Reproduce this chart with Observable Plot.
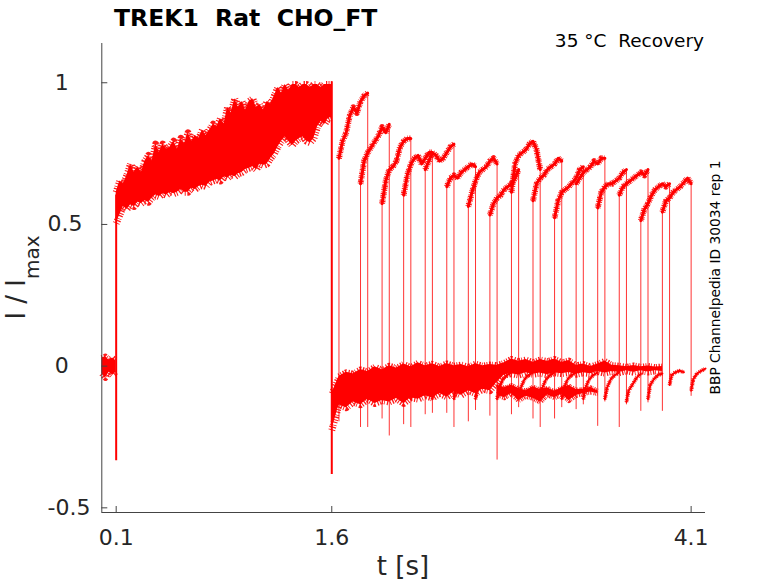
<!DOCTYPE html>
<html><head><meta charset="utf-8">
<script src="https://cdn.jsdelivr.net/npm/d3@7"></script>
<script src="https://cdn.jsdelivr.net/npm/@observablehq/plot@0.6"></script>
<style>body{margin:0;background:#fff}#chart{position:relative;width:778px;height:583px}</style>
</head><body><div id="chart"></div>
<script>
// ---- data ----
const xTicks = [0.1, 1.6, 4.1];
const yTicksInt = [1, 0];
const yTicksDec = [0.5, -0.5];

// baseline before activation step (t = 0 .. 0.1, every 0.025 s)
const preStep = 0.025;
const preUpper = [0.025, 0.03, 0.018, 0.025, 0.015];
const preLower = [-0.03, -0.045, -0.025, -0.035, -0.025];

// activation band (t = 0.1 .. 1.6, every 0.025 s)
const actStart = 0.1, actStep = 0.025;
const actUpper = [0.61,0.65,0.64,0.67,0.71,0.68,0.70,0.68,0.72,0.74,0.72,0.78,0.75,0.78,0.76,0.77,0.79,0.76,0.80,0.78,
  0.82,0.79,0.81,0.80,0.83,0.81,0.83,0.85,0.84,0.87,0.85,0.91,0.89,0.94,0.91,0.93,0.90,0.93,0.94,0.91,
  0.92,0.90,0.93,0.92,0.95,0.98,0.96,0.99,0.97,0.99,0.99,0.98,0.99,0.99,0.98,0.99,0.99,0.98,0.99,0.99,0.99];
const actLower = [0.50,0.53,0.56,0.55,0.565,0.56,0.575,0.57,0.58,0.575,0.59,0.60,0.595,0.605,0.60,0.61,0.605,0.61,0.62,0.61,
  0.61,0.625,0.62,0.63,0.635,0.63,0.645,0.65,0.655,0.65,0.665,0.66,0.67,0.665,0.675,0.68,0.69,0.695,0.70,0.69,
  0.71,0.705,0.71,0.73,0.745,0.77,0.79,0.805,0.79,0.775,0.79,0.80,0.805,0.79,0.785,0.80,0.84,0.86,0.85,0.87,0.875];

// holding band after the 1.6 s step (t = 1.6 .. 3.9, every 0.05 s)
const holdStart = 1.6, holdStep = 0.05;
const holdUpper = [-0.1,-0.04,-0.025,-0.03,-0.015,-0.022,-0.006,-0.016,-0.002,-0.01,0.004,-0.006,0.008,-0.002,0.005,-0.005,
  0.006,-0.002,0.002,-0.006,0.005,-0.002,0.002,0.0,0.008,0.022,0.014,0.02,0.01,0.02,0.014,0.022,0.01,0.016,0.0,0.004,
  -0.005,0.004,0.015,0.0,-0.002,-0.006,-0.001,-0.006,-0.003,-0.007,-0.005];
const holdLower = [-0.23,-0.14,-0.15,-0.13,-0.14,-0.12,-0.135,-0.125,-0.13,-0.118,-0.135,-0.115,-0.12,-0.108,-0.116,-0.1,
  -0.112,-0.095,-0.106,-0.09,-0.1,-0.085,-0.09,-0.06,-0.035,-0.03,-0.035,-0.027,-0.032,-0.028,-0.034,-0.027,-0.03,-0.026,
  -0.032,-0.027,-0.03,-0.022,-0.028,-0.022,-0.026,-0.02,-0.025,-0.02,-0.024,-0.02,-0.022];

// lower-baseline sweeps visible between 2.75 and 3.45 s (every 0.05 s)
const lowStart = 2.75, lowStep = 0.05;
const lowUpper = [-0.07,-0.08,-0.07,-0.082,-0.09,-0.076,-0.086,-0.08,-0.092,-0.08,-0.072,-0.086,-0.085,-0.078,-0.09];
const lowLower = [-0.105,-0.115,-0.1,-0.125,-0.11,-0.117,-0.13,-0.105,-0.115,-0.103,-0.125,-0.107,-0.1,-0.095,-0.1];

// capacitive steps at 0.1 s and 1.6 s
const stepTimes = [0.1, 1.6];
const stepLow = [-0.337, -0.386];
const stepHigh = [0.6, 1.0];

// recovery test pulses (16 sweeps)
const sweepOnset = [1.65,1.80,1.95,2.10,2.25,2.40,2.55,2.70,2.85,3.00,3.15,3.30,3.45,3.60,3.75,3.90];
const pulseDuration = 0.2;
const pulseLevels = [
  [0.73,0.79,0.82,0.88,0.91,0.89,0.93,0.95,0.96],
  [0.64,0.72,0.75,0.77,0.79,0.81,0.84,0.82,0.85],
  [0.57,0.65,0.69,0.70,0.72,0.77,0.79,0.80,0.80],
  [0.60,0.67,0.71,0.73,0.74,0.71,0.73,0.75,0.75],
  [0.69,0.72,0.75,0.74,0.72,0.73,0.75,0.77,0.78],
  [0.63,0.66,0.67,0.66,0.68,0.69,0.70,0.71,0.70],
  [0.56,0.61,0.65,0.68,0.69,0.70,0.72,0.73,0.71],
  [0.53,0.57,0.59,0.60,0.62,0.63,0.64,0.66,0.69],
  [0.61,0.71,0.74,0.75,0.76,0.78,0.79,0.76,0.69],
  [0.58,0.64,0.66,0.67,0.69,0.70,0.71,0.73,0.72],
  [0.52,0.58,0.61,0.62,0.63,0.645,0.66,0.69,0.70],
  [0.64,0.66,0.68,0.69,0.70,0.72,0.71,0.73,0.73],
  [0.555,0.61,0.63,0.64,0.64,0.65,0.66,0.68,0.69],
  [0.60,0.63,0.64,0.65,0.66,0.67,0.68,0.67,0.69],
  [0.51,0.55,0.57,0.60,0.62,0.63,0.64,0.63,0.64],
  [0.54,0.58,0.59,0.61,0.62,0.63,0.645,0.66,0.64]
];
const onsetSpike = [-0.20,-0.22,-0.19,-0.21,-0.175,-0.17,-0.20,-0.18,-0.175,-0.19,-0.19,-0.157,-0.216,-0.22,-0.163,-0.163];
const offsetSpike = [-0.22,-0.25,-0.22,-0.17,-0.22,-0.16,-0.335,-0.15,-0.22,-0.15,-0.14,-0.13,-0.14,-0.133,-0.074,-0.11];
const postOffsets = [0, 0.015, 0.04, 0.07, 0.1];
const postLevels = [
  [-0.12,-0.08,-0.05,-0.035,-0.025],[-0.12,-0.08,-0.05,-0.035,-0.025],[-0.12,-0.08,-0.05,-0.035,-0.025],
  [-0.12,-0.08,-0.05,-0.035,-0.025],[-0.12,-0.08,-0.05,-0.035,-0.025],[-0.12,-0.08,-0.05,-0.035,-0.025],
  [-0.12,-0.08,-0.05,-0.035,-0.025],[-0.12,-0.08,-0.05,-0.035,-0.025],[-0.12,-0.08,-0.05,-0.035,-0.025],
  [-0.12,-0.08,-0.05,-0.035,-0.025],[-0.12,-0.08,-0.05,-0.035,-0.025],[-0.12,-0.08,-0.05,-0.035,-0.025],
  [-0.13,-0.09,-0.07,-0.045,-0.03],[-0.12,-0.07,-0.05,-0.035,-0.03],
  [-0.07,-0.035,-0.025,-0.02,-0.025],[-0.09,-0.05,-0.03,-0.02,-0.012]
];

// ---- tables built from the arrays ----
const band = (start, step, up, lo) => up.map((u, i) => ({t: start + i * step, hi: u, lo: lo[i]}));
const preBand = band(0, preStep, preUpper, preLower);
const actBand = band(actStart, actStep, actUpper, actLower);
const holdBand = band(holdStart, holdStep, holdUpper, holdLower);
const lowBand = band(lowStart, lowStep, lowUpper, lowLower);
const steps = stepTimes.map((t, i) => ({t, lo: stepLow[i], hi: stepHigh[i]}));
const pulseRows = sweepOnset.flatMap((t0, k) => pulseLevels[k].map((v, i, a) =>
  ({sweep: k, t: t0 + i * pulseDuration / (a.length - 1), v})));
const postRows = sweepOnset.flatMap((t0, k) => postOffsets.map((o, i) =>
  ({sweep: k, t: t0 + pulseDuration + o, v: postLevels[k][i]})));
const edges = sweepOnset.flatMap((t0, k) => [
  {t: t0, lo: onsetSpike[k], hi: pulseLevels[k][0]},
  {t: t0 + pulseDuration, lo: offsetSpike[k], hi: pulseLevels[k][pulseLevels[k].length - 1]}
]);

const red = "#ff0000";
const ink = "#262626";
const noisyBand = "1,1.6,1.4,1.1,0.8,2.1,1.2,1.3";   // dash patterns that give the traces their noisy fringe
const noisyTrace = "0.8,0.9,1.3,0.7,0.6,1.4,1.1,0.8";

const fringe = (data, y, w, pattern, z) => Plot.line(data, {x: "t", y, z,
  stroke: red, strokeWidth: w, strokeDasharray: pattern, strokeLinecap: "butt", strokeOpacity: 0.9});

const chart = Plot.plot({
  width: 778, height: 583,
  marginLeft: 101.3, marginRight: 73, marginTop: 43, marginBottom: 71,
  x: {domain: [0, 4.2]},
  y: {domain: [-0.52, 1.135]},
  style: {fontFamily: "DejaVu Sans", fontSize: "22px", color: ink, background: "#fff", overflow: "visible"},
  marks: [
    Plot.areaY(preBand, {x: "t", y1: "lo", y2: "hi", fill: red}),
    fringe(preBand, "hi", 6, noisyBand), fringe(preBand, "lo", 6, noisyBand),
    Plot.areaY(actBand, {x: "t", y1: "lo", y2: "hi", fill: red}),
    fringe(actBand, "hi", 7, noisyBand), fringe(actBand, "lo", 7, noisyBand),
    Plot.areaY(holdBand, {x: "t", y1: "lo", y2: "hi", fill: red}),
    fringe(holdBand, "hi", 6, noisyBand), fringe(holdBand, "lo", 7, noisyBand),
    Plot.areaY(lowBand, {x: "t", y1: "lo", y2: "hi", fill: red}),
    fringe(lowBand, "hi", 4, noisyTrace), fringe(lowBand, "lo", 5, noisyTrace),
    Plot.ruleX(steps, {x: "t", y1: "lo", y2: "hi", stroke: red, strokeWidth: 2}),
    Plot.ruleX(edges, {x: "t", y1: "lo", y2: "hi", stroke: red, strokeWidth: 1, strokeOpacity: 0.8}),
    Plot.line(pulseRows, {x: "t", y: "v", z: "sweep", stroke: red, strokeWidth: 3}),
    fringe(pulseRows, "v", 6, noisyTrace, "sweep"),
    Plot.line(postRows, {x: "t", y: "v", z: "sweep", stroke: red, strokeWidth: 2}),
    fringe(postRows, "v", 4, noisyTrace, "sweep"),
    Plot.ruleX([0], {stroke: "#444", strokeWidth: 1}),
    Plot.ruleY([-0.52], {stroke: "#444", strokeWidth: 1}),
    Plot.axisX(xTicks, {tickSize: -6, tickPadding: 23, tickFormat: d => d.toFixed(1), stroke: "#444", fill: ink, fontSize: 22, label: null}),
    Plot.axisY(yTicksInt, {tickSize: -6, tickPadding: 53, textAnchor: "start", tickFormat: d => String(d), stroke: "#444", fill: ink, fontSize: 22, dy: 1, label: null}),
    Plot.axisY(yTicksDec, {tickSize: -6, tickPadding: 60.3, textAnchor: "start", tickFormat: d => String(d), stroke: "#444", fill: ink, fontSize: 22, dy: 1, label: null})
  ]
});
document.getElementById("chart").append(chart);

const svg = d3.select(chart);
svg.append("text").attr("x", 114).attr("y", 26).attr("text-anchor", "start")
  .attr("font-family", "DejaVu Sans").attr("font-weight", "bold").attr("font-size", 23.5)
  .attr("fill", "#000").style("white-space", "pre").text("TREK1  Rat  CHO_FT");
svg.append("text").attr("x", 704).attr("y", 47).attr("text-anchor", "end")
  .attr("font-family", "DejaVu Sans").attr("font-size", 18.5)
  .attr("fill", "#000").style("white-space", "pre").text("35 °C  Recovery");
svg.append("text").attr("x", 403).attr("y", 575).attr("text-anchor", "middle")
  .attr("font-family", "DejaVu Sans").attr("font-size", 26).attr("fill", ink).text("t [s]");
const yl = svg.append("text").attr("transform", "translate(25,277.5) rotate(-90)")
  .attr("text-anchor", "middle").attr("font-family", "DejaVu Sans").attr("font-size", 26)
  .attr("fill", ink).style("white-space", "pre");
yl.append("tspan").text("I / I");
yl.append("tspan").attr("dy", 14).attr("font-size", 20).text("max");
svg.append("text").attr("transform", "translate(720,277.5) rotate(-90)")
  .attr("text-anchor", "middle").attr("font-family", "DejaVu Sans").attr("font-size", 13.8)
  .attr("fill", "#000").text("BBP Channelpedia ID 30034 rep 1");
</script></body></html>
